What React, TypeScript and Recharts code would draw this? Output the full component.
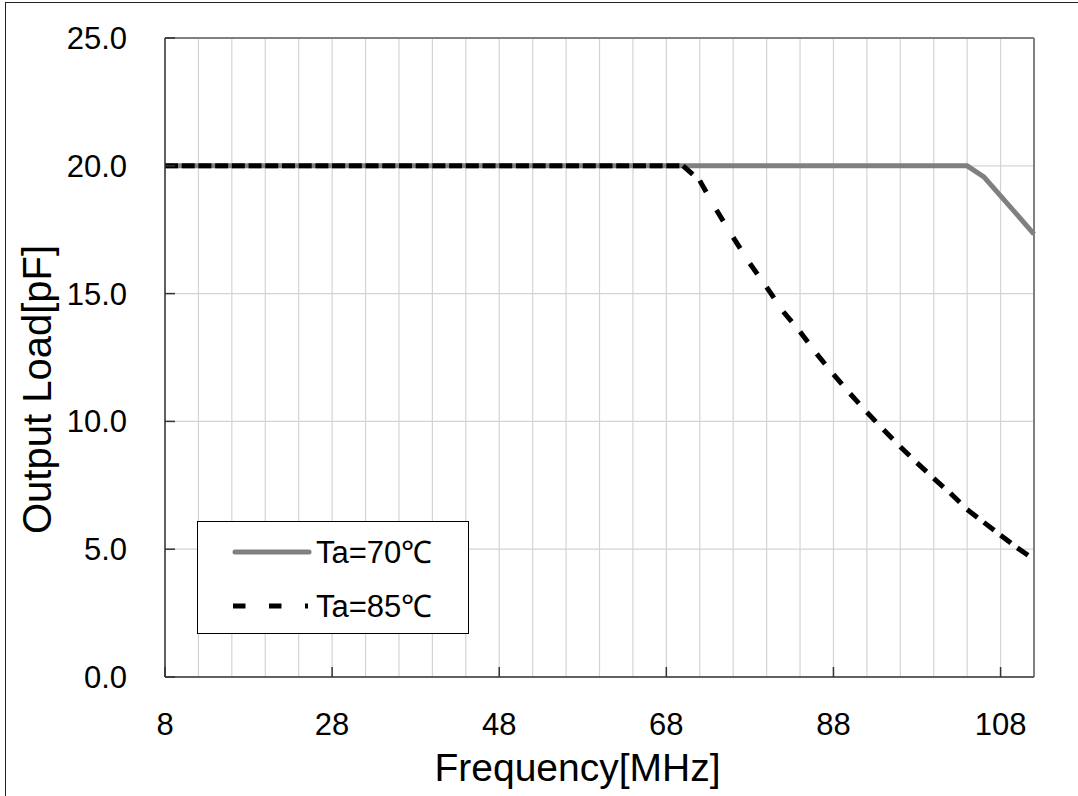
import React from 'react'
import {
  CartesianGrid,
  Legend,
  Line,
  LineChart,
  ReferenceLine,
  XAxis,
  YAxis,
} from 'recharts'

// Ta=70℃ curve (solid gray)
const freq70 = [8, 104, 106, 108, 110, 112]
const load70 = [20, 20, 19.57, 18.82, 18.08, 17.33]

// Ta=85℃ curve (black dashed), sampled every 2 MHz
const freq85 = [
  8, 10, 12, 14, 16, 18, 20, 22, 24, 26, 28, 30, 32, 34, 36, 38, 40, 42, 44, 46,
  48, 50, 52, 54, 56, 58, 60, 62, 64, 66, 68, 70, 72, 74, 76, 78, 80, 82, 84, 86,
  88, 90, 92, 94, 96, 98, 100, 102, 104, 106, 108, 110, 112,
]
const load85 = [
  20, 20, 20, 20, 20, 20, 20, 20, 20, 20, 20, 20, 20, 20, 20, 20, 20, 20, 20, 20,
  20, 20, 20, 20, 20, 20, 20, 20, 20, 20, 20, 20, 19.42, 18.27, 17.2, 16.18,
  15.25, 14.29, 13.51, 12.64, 11.84, 11.08, 10.36, 9.67, 9.01, 8.38, 7.77, 7.19,
  6.55, 6.05, 5.55, 5.05, 4.6,
]

const gridFreq = [
  8, 12, 16, 20, 24, 28, 32, 36, 40, 44, 48, 52, 56, 60, 64, 68, 72, 76, 80, 84,
  88, 92, 96, 100, 104, 108, 112,
]
const xLabels = [8, 28, 48, 68, 88, 108]
const yTicks = [0, 5, 10, 15, 20, 25]
const seriesNames = ['Ta=70℃', 'Ta=85℃']

const rows70 = freq70.map((f, i) => ({ f, v: load70[i] }))
// one Line per segment so the dash pattern restarts at every point
const segments85 = freq85.slice(1).map((f, i) => [
  { f: freq85[i], v: load85[i] },
  { f, v: load85[i + 1] },
])

const XTick = (props: any) => {
  const { x, y, payload } = props
  if (!xLabels.includes(payload.value)) return <g />
  return (
    <g>
      <line x1={x} x2={x} y1={y} y2={y - 10} stroke="#333" strokeWidth={1.5} />
      <text x={x} y={y + 57.5} textAnchor="middle" fontSize={31} fill="#000">
        {payload.value}
      </text>
    </g>
  )
}

const YTick = (props: any) => {
  const { x, y, payload } = props
  return (
    <g>
      <line x1={x} x2={x + 10} y1={y} y2={y} stroke="#333" strokeWidth={1.5} />
      <text x={x - 38} y={y + 11} textAnchor="end" fontSize={31} fill="#000">
        {payload.value.toFixed(1)}
      </text>
    </g>
  )
}

const YTitle = (props: any) => {
  const { viewBox } = props
  const cx = viewBox.x + 51
  const cy = viewBox.y + viewBox.height / 2 + 32
  return (
    <text
      x={cx}
      y={cy}
      transform={`rotate(-90, ${cx}, ${cy})`}
      textAnchor="middle"
      fontSize={40}
      fill="#000"
    >
      Output Load[pF]
    </text>
  )
}

const LegendBox = () => (
  <div
    style={{
      width: 272,
      height: 113,
      border: '1px solid #000',
      background: '#fff',
      boxSizing: 'border-box',
    }}
  >
    <svg width={270} height={111}>
      <line
        x1={37}
        x2={111}
        y1={30}
        y2={30}
        stroke="#808080"
        strokeWidth={5}
        strokeLinecap="round"
      />
      <text x={118} y={41} fontSize={31} fill="#000">
        {seriesNames[0]}
      </text>
      <line
        x1={35}
        x2={110}
        y1={84}
        y2={84}
        stroke="#000"
        strokeWidth={5}
        strokeDasharray="12.5 23.5"
      />
      <text x={118} y={95} fontSize={31} fill="#000">
        {seriesNames[1]}
      </text>
    </svg>
  </div>
)

export default function App() {
  return (
    <div
      style={{
        position: 'absolute',
        left: 0,
        top: 0,
        width: 1078,
        height: 796,
        overflow: 'hidden',
        background: '#fff',
        fontFamily: 'Arial, "Liberation Sans", sans-serif',
      }}
    >
      <div
        style={{
          position: 'absolute',
          left: 5,
          top: 2,
          width: 1200,
          height: 900,
          borderLeft: '1.5px solid #222',
          borderTop: '1.5px solid #222',
        }}
      />
      <LineChart
        width={1078}
        height={796}
        margin={{ top: 38, right: 44, bottom: 0, left: 0 }}
        style={{ position: 'absolute', left: 0, top: 0 }}
      >
        <CartesianGrid stroke="#d4d4d4" strokeWidth={1.2} />
        <XAxis
          type="number"
          dataKey="f"
          domain={[8, 112]}
          ticks={gridFreq}
          interval={0}
          height={119}
          tickSize={0}
          tickMargin={0}
          tickLine={false}
          tick={<XTick />}
          axisLine={{ stroke: '#333', strokeWidth: 1.5 }}
          label={{
            value: 'Frequency[MHz]',
            position: 'insideBottom',
            offset: 15,
            dx: -22,
            fontSize: 39,
            fill: '#000',
          }}
        />
        <YAxis
          type="number"
          domain={[0, 25]}
          ticks={yTicks}
          interval={0}
          width={165}
          tickSize={0}
          tickMargin={0}
          tickLine={false}
          tick={<YTick />}
          axisLine={{ stroke: '#333', strokeWidth: 1.5 }}
          label={<YTitle />}
        />
        <ReferenceLine y={25} stroke="#808080" strokeWidth={2} />
        <ReferenceLine x={112} stroke="#808080" strokeWidth={2} />
        <Line
          data={rows70}
          dataKey="v"
          name={seriesNames[0]}
          stroke="#808080"
          strokeWidth={5}
          dot={false}
          activeDot={false}
          isAnimationActive={false}
        />
        {segments85.map((seg, i) => (
          <Line
            key={i}
            data={seg}
            dataKey="v"
            stroke="#000"
            strokeWidth={5}
            strokeDasharray="13 40"
            dot={false}
            activeDot={false}
            legendType="none"
            isAnimationActive={false}
          />
        ))}
        <Legend
          layout="horizontal"
          verticalAlign="middle"
          align="center"
          content={<LegendBox />}
          wrapperStyle={{ left: 197, top: 521, width: 272, height: 113 }}
        />
      </LineChart>
    </div>
  )
}
